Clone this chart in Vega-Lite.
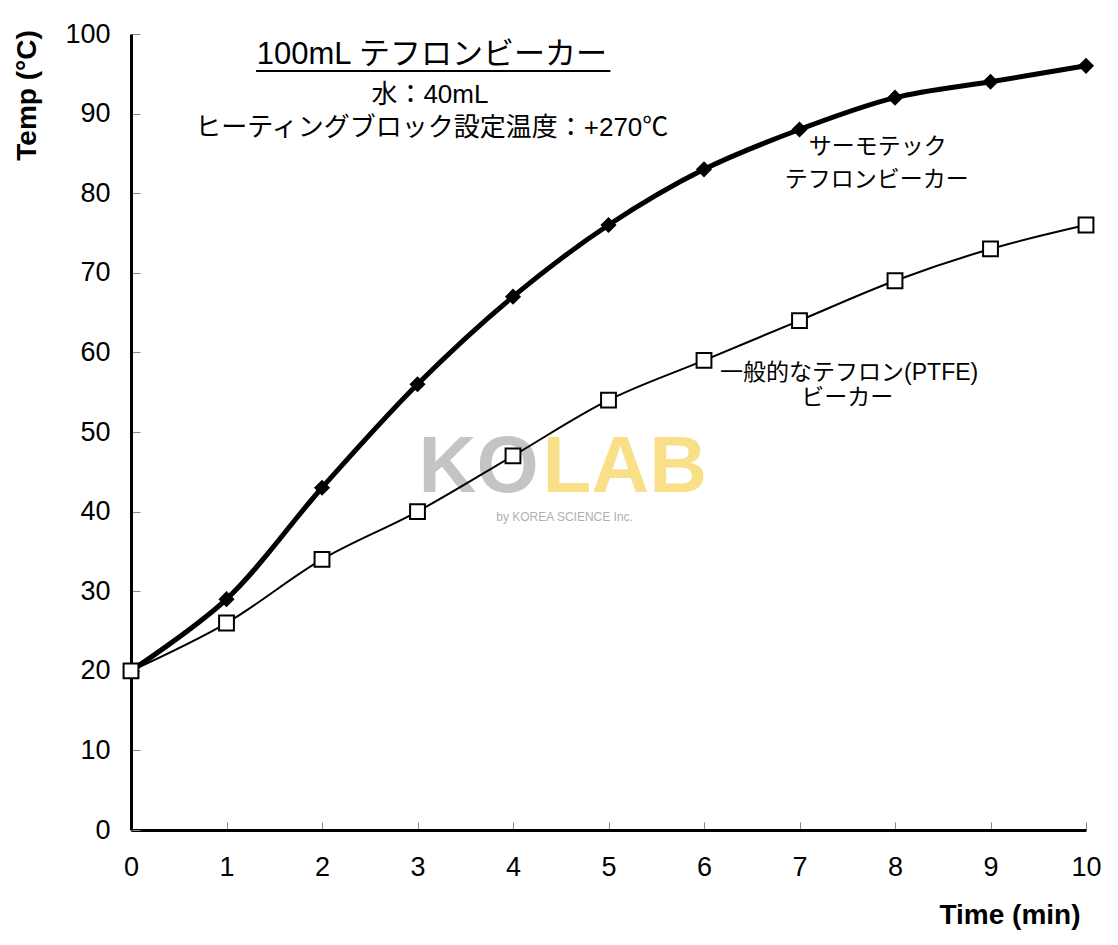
{
  "$schema": "https://vega.github.io/schema/vega-lite/v6.json",
  "width": 955,
  "height": 796,
  "autosize": {"type": "none"},
  "padding": {"left": 131, "top": 34, "right": 32, "bottom": 115},
  "background": "white",
  "config": {"view": {"stroke": null}, "font": "Liberation Sans, 'Noto Sans CJK JP', sans-serif"},
  "datasets": {
    "series": [
      {"t": 0, "temp": 20, "series": "Thermo"},
      {"t": 1, "temp": 29, "series": "Thermo"},
      {"t": 2, "temp": 43, "series": "Thermo"},
      {"t": 3, "temp": 56, "series": "Thermo"},
      {"t": 4, "temp": 67, "series": "Thermo"},
      {"t": 5, "temp": 76, "series": "Thermo"},
      {"t": 6, "temp": 83, "series": "Thermo"},
      {"t": 7, "temp": 88, "series": "Thermo"},
      {"t": 8, "temp": 92, "series": "Thermo"},
      {"t": 9, "temp": 94, "series": "Thermo"},
      {"t": 10, "temp": 96, "series": "Thermo"},
      {"t": 0, "temp": 20, "series": "PTFE"},
      {"t": 1, "temp": 26, "series": "PTFE"},
      {"t": 2, "temp": 34, "series": "PTFE"},
      {"t": 3, "temp": 40, "series": "PTFE"},
      {"t": 4, "temp": 47, "series": "PTFE"},
      {"t": 5, "temp": 54, "series": "PTFE"},
      {"t": 6, "temp": 59, "series": "PTFE"},
      {"t": 7, "temp": 64, "series": "PTFE"},
      {"t": 8, "temp": 69, "series": "PTFE"},
      {"t": 9, "temp": 73, "series": "PTFE"},
      {"t": 10, "temp": 76, "series": "PTFE"}
    ],
    "title": [{"t": 3.15, "temp": 97.4, "text": "100mL テフロンビーカー"}],
    "underline": [{"t": 1.31, "t2": 5.02, "temp": 95.35}],
    "sub": [
      {"t": 3.13, "temp": 92.3, "text": "水：40mL"},
      {"t": 3.15, "temp": 88.2, "text": "ヒーティングブロック設定温度：+270℃"}
    ],
    "notes": [
      {"t": 7.82, "temp": 85.8, "text": "サーモテック"},
      {"t": 7.81, "temp": 81.7, "text": "テフロンビーカー"},
      {"t": 7.52, "temp": 57.4, "text": "一般的なテフロン(PTFE)"},
      {"t": 7.5, "temp": 54.3, "text": "ビーカー"}
    ],
    "wmko": [{"t": 3.64, "temp": 45.5, "text": "KO"}],
    "wmlab": [{"t": 5.17, "temp": 45.5, "text": "LAB"}],
    "wmsub": [{"t": 4.54, "temp": 39.3, "text": "by KOREA SCIENCE Inc."}]
  },
  "encoding": {
    "x": {
      "field": "t", "type": "quantitative",
      "scale": {"domain": [0, 10], "nice": false, "zero": false},
      "axis": {
        "values": [0, 1, 2, 3, 4, 5, 6, 7, 8, 9, 10],
        "grid": false,
        "domainColor": "black", "domainWidth": 3,
        "tickColor": "#888888", "tickWidth": 1, "tickSize": -8,
        "labelFontSize": 27, "labelColor": "black", "labelPadding": 32,
        "labelFlush": false,
        "title": "Time (min)", "titleFontSize": 28, "titleFontWeight": "bold", "titleColor": "black",
        "titleAnchor": null, "titleAlign": "right", "titleBaseline": "middle",
        "titleX": 949, "titleY": 85
      }
    },
    "y": {
      "field": "temp", "type": "quantitative",
      "scale": {"domain": [0, 100], "nice": false},
      "axis": {
        "values": [0, 10, 20, 30, 40, 50, 60, 70, 80, 90, 100],
        "grid": false,
        "domainColor": "black", "domainWidth": 3,
        "tickColor": "#888888", "tickWidth": 1, "tickSize": -9,
        "labelFontSize": 27, "labelColor": "black", "labelPadding": 30,
        "labelFlush": false,
        "title": "Temp (°C)", "titleFontSize": 28, "titleFontWeight": "bold", "titleColor": "black",
        "titleAngle": -90, "titleAlign": "center", "titleBaseline": "middle",
        "titleX": -104, "titleY": 61
      }
    }
  },
  "layer": [
    {"data": {"name": "wmko"}, "mark": {"type": "text", "fontSize": 80, "fontWeight": "bold", "color": "#c4c4c4", "align": "center", "baseline": "middle"}, "encoding": {"text": {"field": "text"}}},
    {"data": {"name": "wmlab"}, "mark": {"type": "text", "fontSize": 80, "fontWeight": "bold", "color": "#f8df88", "align": "center", "baseline": "middle"}, "encoding": {"text": {"field": "text"}}},
    {"data": {"name": "wmsub"}, "mark": {"type": "text", "fontSize": 12, "color": "#b0b0b0", "align": "center", "baseline": "middle"}, "encoding": {"text": {"field": "text"}}},
    {"data": {"name": "series"}, "transform": [{"filter": "datum.series === 'Thermo'"}], "mark": {"type": "line", "color": "black", "strokeWidth": 5, "interpolate": "catmull-rom"}, "encoding": {}},
    {"data": {"name": "series"}, "transform": [{"filter": "datum.series === 'PTFE'"}], "mark": {"type": "line", "color": "black", "strokeWidth": 2, "interpolate": "catmull-rom"}, "encoding": {}},
    {"data": {"name": "series"}, "transform": [{"filter": "datum.series === 'Thermo'"}], "mark": {"type": "point", "shape": "diamond", "filled": true, "color": "black", "opacity": 1, "size": 260}, "encoding": {}},
    {"data": {"name": "series"}, "transform": [{"filter": "datum.series === 'PTFE'"}], "mark": {"type": "point", "shape": "square", "filled": true, "fill": "white", "stroke": "black", "strokeWidth": 2, "opacity": 1, "size": 220}, "encoding": {}},
    {"data": {"name": "title"}, "mark": {"type": "text", "fontSize": 31, "color": "black", "align": "center", "baseline": "middle"}, "encoding": {"text": {"field": "text"}}},
    {"data": {"name": "underline"}, "mark": {"type": "rule", "color": "black", "strokeWidth": 2}, "encoding": {"x2": {"field": "t2"}}},
    {"data": {"name": "sub"}, "mark": {"type": "text", "fontSize": 26, "color": "black", "align": "center", "baseline": "middle"}, "encoding": {"text": {"field": "text"}}},
    {"data": {"name": "notes"}, "mark": {"type": "text", "fontSize": 23, "color": "black", "align": "center", "baseline": "middle"}, "encoding": {"text": {"field": "text"}}}
  ]
}
